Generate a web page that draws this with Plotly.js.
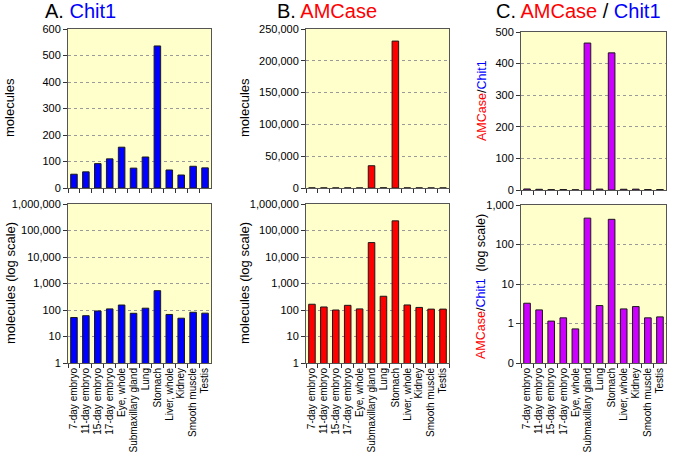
<!DOCTYPE html>
<html>
<head>
<meta charset="utf-8">
<script src="https://cdn.plot.ly/plotly-3.0.1.min.js"></script>
<style>html,body{margin:0;padding:0;background:#fff;}#chart{width:683px;height:464px;}</style>
</head>
<body>
<div id="chart"></div>
<script>
const tissues = ["7-day embryo","11-day embryo","15-day embryo","17-day embryo","Eye, whole","Submaxillary gland","Lung","Stomach","Liver, whole","Kidney","Smooth muscle","Testis"];
const chit1 = [52, 61, 92, 110, 154, 75, 117, 536, 68, 49, 82, 76];
const amcase = [165, 130, 100, 150, 110, 35000, 330, 231000, 155, 125, 108, 108];
const ratio = [3.26, 2.21, 1.15, 1.39, 0.73, 465, 2.84, 434, 2.34, 2.68, 1.39, 1.47];

const logTickVals6 = [1, 10, 100, 1000, 10000, 100000, 1000000];
const logTickText6 = ["1", "10", "100", "1,000", "10,000", "100,000", "1,000,000"];
const logTickVals4 = [0.1, 1, 10, 100, 1000];
const logTickText4 = ["0", "1", "10", "100", "1,000"];

const FONT = "Liberation Sans, Arial, sans-serif";
const BLUE = "#0000ff", RED = "#ff0000", PURPLE = "#cc00ff";

function bar(y, color, xa, ya) {
  return {type: "bar", x: tissues, y: y, xaxis: xa, yaxis: ya,
    marker: {color: color, line: {color: "#1a1a1a", width: 1}}, hoverinfo: "x+y"};
}

const data = [
  bar(chit1, BLUE, "x", "y"),
  bar(chit1, BLUE, "x2", "y2"),
  bar(amcase, RED, "x3", "y3"),
  bar(amcase, RED, "x4", "y4"),
  bar(ratio, PURPLE, "x5", "y5"),
  bar(ratio, PURPLE, "x6", "y6")
];

function xax(domain, anchor, labels) {
  return {domain: domain, anchor: anchor, type: "category",
    tickmode: "array", tickvals: tissues, ticktext: tissues,
    showline: true, mirror: true, linecolor: "#555", linewidth: 1,
    ticks: "outside", ticklen: 4, tickcolor: "#333", tickson: "boundaries",
    showgrid: false, showticklabels: labels, tickangle: -90,
    tickfont: {size: 10, color: "#000", family: FONT}, fixedrange: true};
}
function yax(domain, anchor, extra) {
  return Object.assign({domain: domain, anchor: anchor,
    showline: true, mirror: true, linecolor: "#555", linewidth: 1,
    ticks: "outside", ticklen: 4, tickcolor: "#333",
    showgrid: true, gridcolor: "#9a9a9a", griddash: "dot", gridwidth: 1,
    zeroline: false, tickfont: {size: 11, color: "#000", family: FONT}, fixedrange: true}, extra);
}

const W = 683, H = 464;
const px = (a, b) => [a / W, b / W];
const py = (top, bottom) => [1 - bottom / H, 1 - top / H];

const layout = {
  width: W, height: H,
  margin: {l: 0, r: 0, t: 0, b: 0},
  paper_bgcolor: "#fff", plot_bgcolor: "#ffffcc",
  showlegend: false, bargap: 0.45,
  font: {family: FONT, color: "#000"},
  xaxis: xax(px(68, 211), "y", false),
  yaxis: yax(py(29, 188), "x", {range: [0, 600], dtick: 100}),
  xaxis2: xax(px(68, 211), "y2", true),
  yaxis2: yax(py(204, 363), "x2", {type: "log", range: [0, 6], tickvals: logTickVals6, ticktext: logTickText6}),
  xaxis3: xax(px(306, 449), "y3", false),
  yaxis3: yax(py(29, 188), "x3", {range: [0, 250000], dtick: 50000, tickformat: ","}),
  xaxis4: xax(px(306, 449), "y4", true),
  yaxis4: yax(py(204, 363), "x4", {type: "log", range: [0, 6], tickvals: logTickVals6, ticktext: logTickText6}),
  xaxis5: xax(px(521, 666), "y5", false),
  yaxis5: yax(py(32, 190), "x5", {range: [0, 500], dtick: 100}),
  xaxis6: xax(px(521, 666), "y6", true),
  yaxis6: yax(py(205, 363), "x6", {type: "log", range: [-1, 3], tickvals: logTickVals4, ticktext: logTickText4}),
  annotations: [
    {text: "A. <span style='color:#0000ff'>Chit1</span>", x: 80 / W, y: 1 - 11 / H},
    {text: "B. <span style='color:#ff0000'>AMCase</span>", x: 327 / W, y: 1 - 11 / H},
    {text: "C. <span style='color:#ff0000'>AMCase</span> / <span style='color:#0000ff'>Chit1</span>", x: 578 / W, y: 1 - 11 / H}
  ].map(a => Object.assign({xref: "paper", yref: "paper", showarrow: false, xanchor: "center", yanchor: "middle",
      font: {size: 20, family: FONT, color: "#000"}}, a)).concat([
    {text: "molecules", x: 10 / W, y: 1 - 108 / H, size: 13},
    {text: "molecules (log scale)", x: 10 / W, y: 1 - 283 / H, size: 13},
    {text: "molecules", x: 245 / W, y: 1 - 108 / H, size: 13},
    {text: "molecules (log scale)", x: 244 / W, y: 1 - 283 / H, size: 13},
    {text: "<span style='color:#ff0000'>AMCase</span>/<span style='color:#0000ff'>Chit1</span>", x: 482 / W, y: 1 - 101 / H, size: 12.5},
    {text: "<span style='color:#ff0000'>AMCase</span>/<span style='color:#0000ff'>Chit1</span>  (log scale)", x: 481 / W, y: 1 - 287 / H, size: 12.5}
  ].map(a => ({xref: "paper", yref: "paper", showarrow: false, xanchor: "center", yanchor: "middle",
      textangle: -90, text: a.text, x: a.x, y: a.y, font: {size: a.size, family: FONT, color: "#000"}})))
};

Plotly.newPlot("chart", data, layout, {staticPlot: true, displayModeBar: false});
</script>
</body>
</html>
